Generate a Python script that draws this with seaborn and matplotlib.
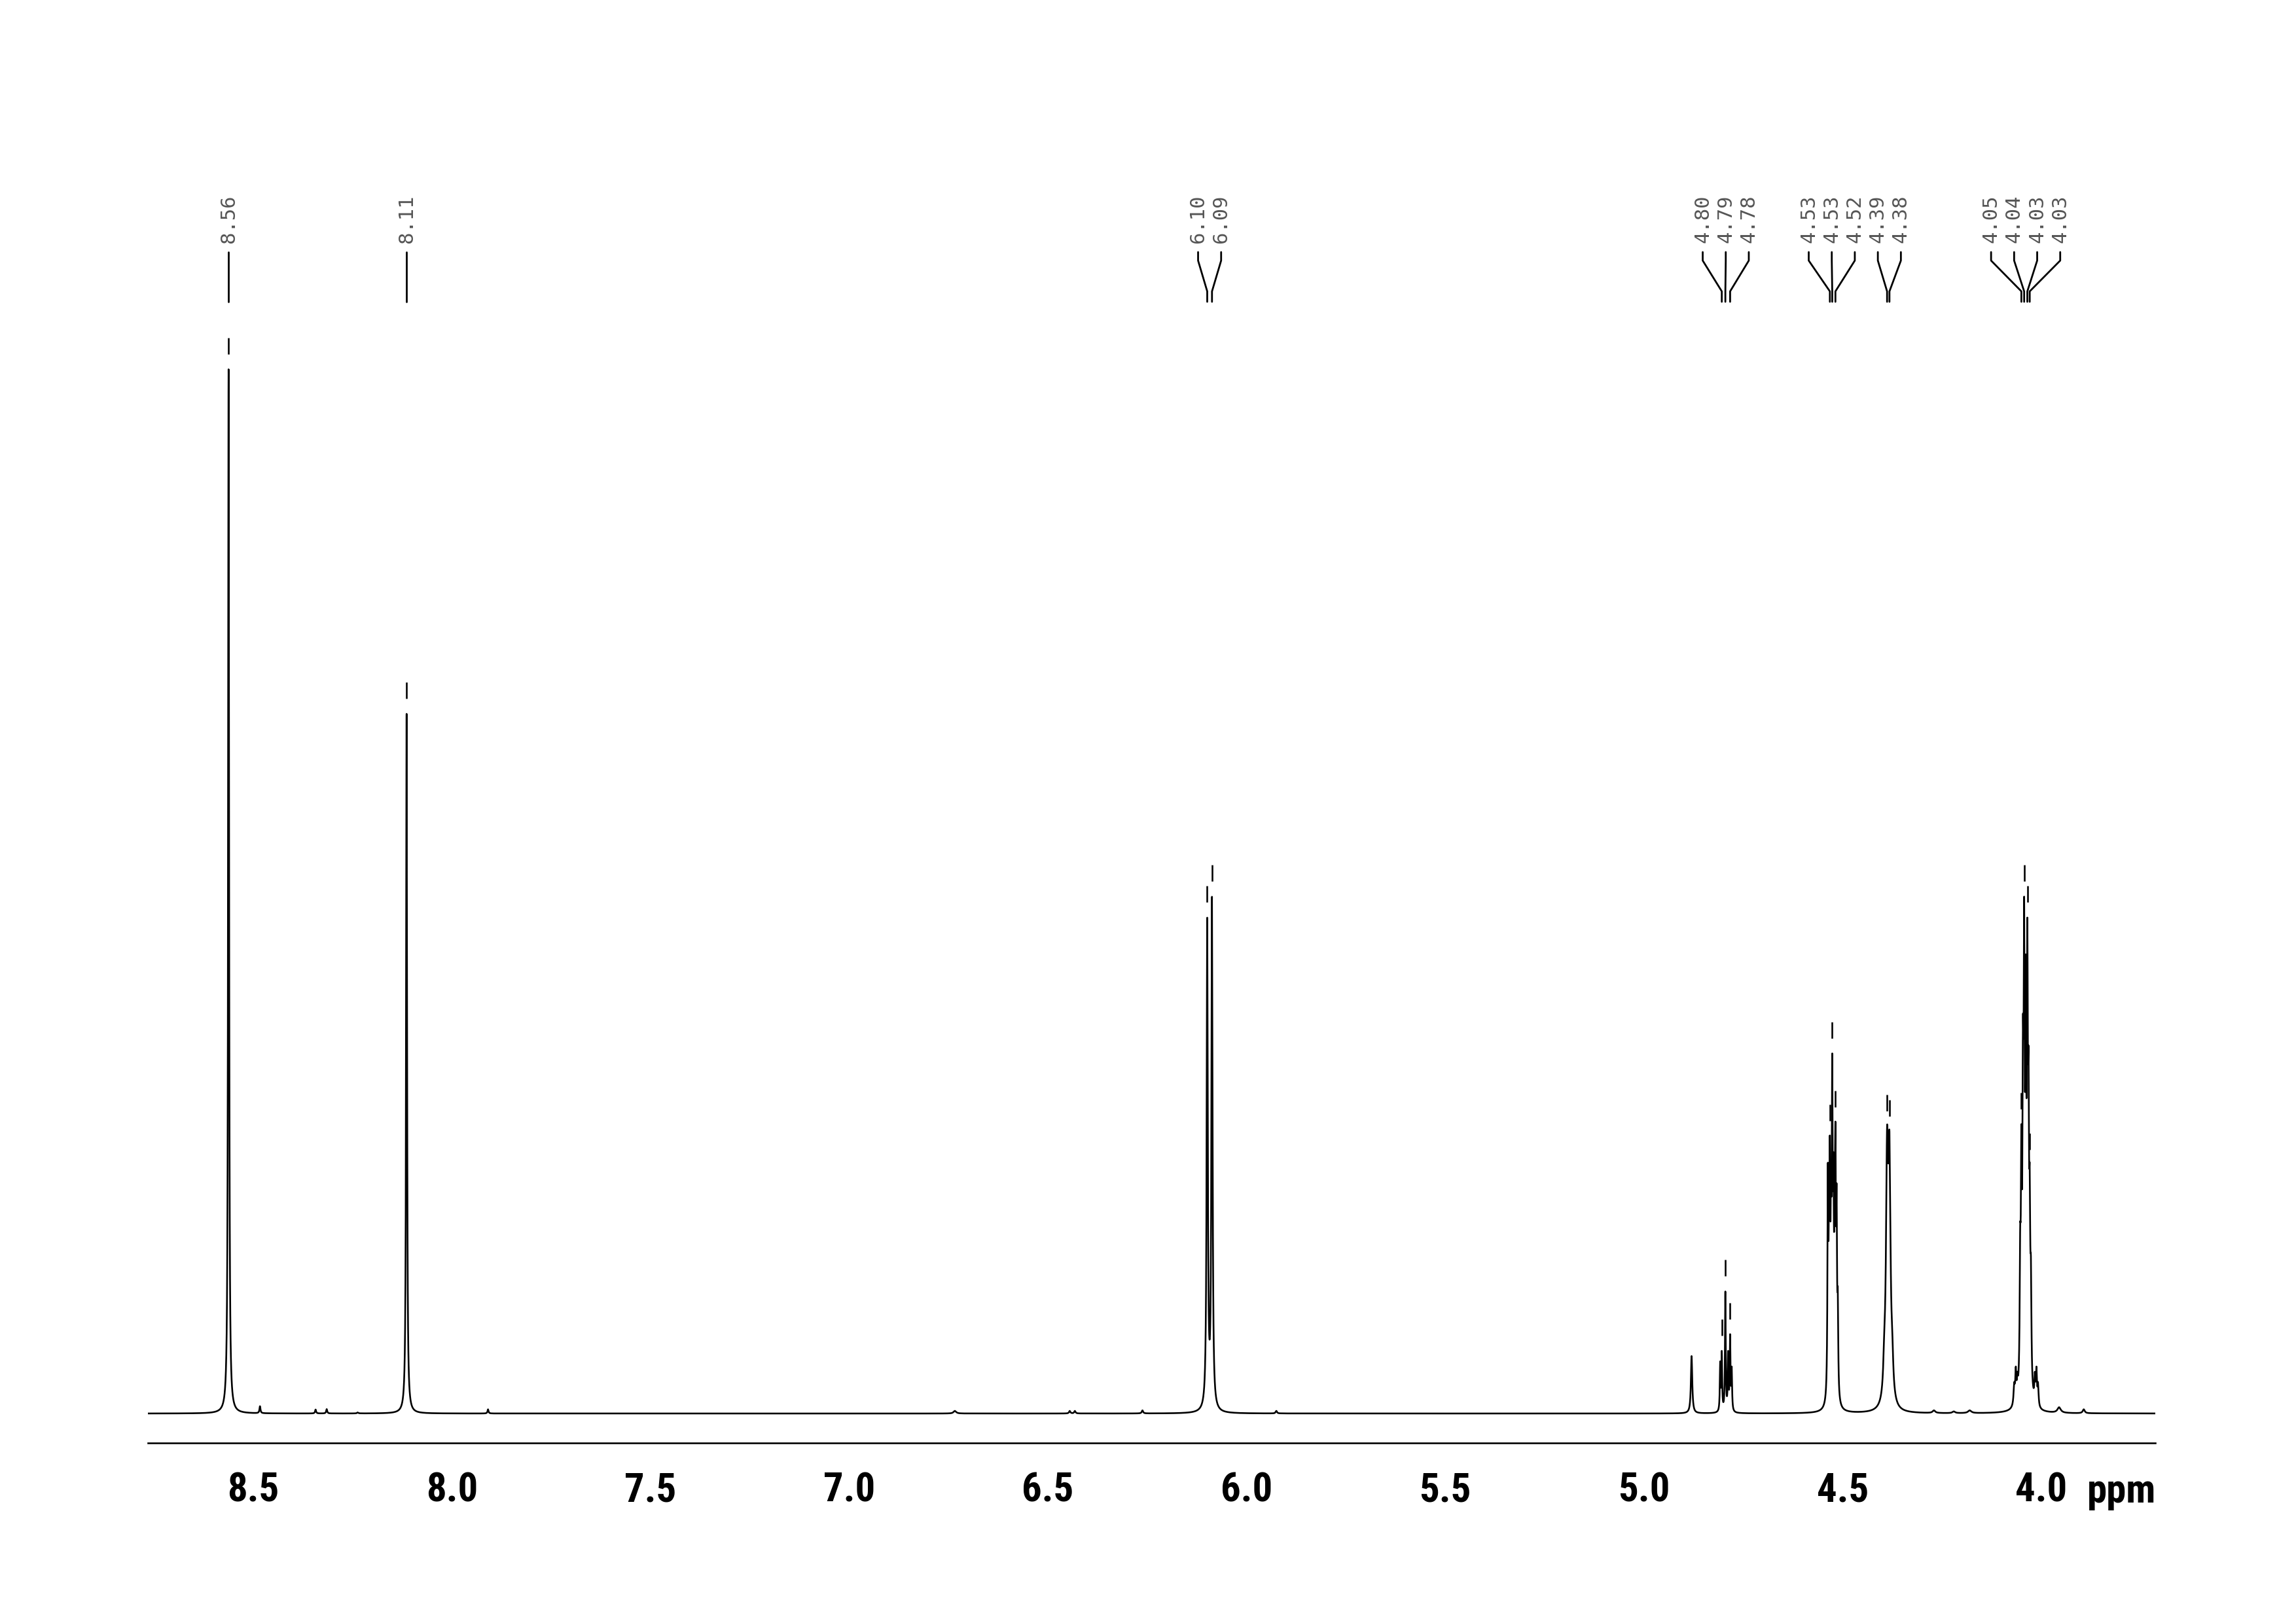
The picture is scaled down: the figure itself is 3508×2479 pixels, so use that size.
import numpy as np
import pandas as pd
import seaborn as sns
import matplotlib
from matplotlib import pyplot as plt
from matplotlib import transforms, font_manager
from matplotlib.ticker import MultipleLocator, FormatStrFormatter
matplotlib.use("Agg")

# resonance lines: shift (ppm), apparent height (8.56 = 100), FWHM (ppm)
line_ppm = [8.562, 8.483, 8.343, 8.315, 8.237, 8.114, 7.909, 6.734, 6.445, 6.432, 6.262,
            6.099, 6.087, 5.925, 4.880,
            4.808, 4.804, 4.795, 4.788, 4.783, 4.779,
            4.537, 4.534, 4.532, 4.529, 4.526, 4.523, 4.520, 4.518, 4.515, 4.512,
            4.395, 4.388, 4.382, 4.375, 4.27, 4.22, 4.18,
            4.068, 4.064, 4.060, 4.053, 4.050, 4.046, 4.043, 4.039, 4.035, 4.032, 4.029, 4.026,
            4.016, 4.012, 4.008, 3.955, 3.893]
line_height = [100, 0.7, 0.38, 0.42, 0.1, 67.0, 0.4, 0.25, 0.25, 0.25, 0.3,
               47.5, 49.5, 0.25, 5.5,
               5.0, 6.0, 11.7, 6.0, 7.6, 4.5,
               24, 22, 26.6, 24, 34.5, 25, 23, 27.9, 22, 12,
               8, 27.5, 27.0, 8, 0.3, 0.2, 0.3,
               3.0, 4.5, 4.0, 18, 27.7, 38, 49.5, 44, 47.5, 35, 23.8, 15,
               4.0, 4.5, 3.0, 0.6, 0.4]
line_fwhm = [0.0028, 0.003, 0.003, 0.003, 0.004, 0.0028, 0.003, 0.008, 0.004, 0.004, 0.004,
             0.0034, 0.0034, 0.004, 0.004,
             0.0022, 0.0022, 0.0022, 0.0022, 0.0022, 0.0022,
             0.0025, 0.0025, 0.0025, 0.0025, 0.0025, 0.0025, 0.0025, 0.0025, 0.0025, 0.0025,
             0.006, 0.0065, 0.0065, 0.006, 0.008, 0.008, 0.01,
             0.004, 0.003, 0.003, 0.003, 0.003, 0.003, 0.003, 0.003, 0.003, 0.003, 0.003, 0.003,
             0.003, 0.003, 0.003, 0.01, 0.006]

# picked peaks with their printed labels
label_ppm = [8.562, 8.114, 6.099, 6.087, 4.804, 4.795, 4.783, 4.532, 4.526, 4.518,
             4.388, 4.382, 4.050, 4.043, 4.035, 4.029]
label_text = ["8.56", "8.11", "6.10", "6.09", "4.80", "4.79", "4.78", "4.53", "4.53", "4.52",
              "4.39", "4.38", "4.05", "4.04", "4.03", "4.03"]

x_left, x_right = 8.765, 3.713


def lorentz(x, x0, w):
    return 1.0 / (1.0 + ((x - x0) / (w / 2.0)) ** 2)


def build_spectrum(grid):
    pos = np.array(line_ppm)
    hgt = np.array(line_height, dtype=float)
    wid = np.array(line_fwhm)
    m = lorentz(pos[:, None], pos[None, :], wid[None, :])
    amp = hgt.copy()
    for _ in range(300):
        amp *= hgt / (m @ amp)
    spec = np.zeros_like(grid)
    for a, p, w in zip(amp, pos, wid):
        spec += a * lorentz(grid, p, w)
    return spec, (lambda xs: sum(a * lorentz(np.asarray(xs), p, w) for a, p, w in zip(amp, pos, wid)))


def spread_labels(peaks, step):
    groups = [[i] for i in range(len(peaks))]
    while True:
        spots = []
        for g in groups:
            c = np.mean([peaks[i] for i in g])
            spots.append([c + step * ((len(g) - 1) / 2 - j) for j in range(len(g))])
        merged = False
        for k in range(len(groups) - 1):
            if spots[k][-1] - spots[k + 1][0] < step:
                groups[k] = groups[k] + groups[k + 1]
                del groups[k + 1]
                merged = True
                break
        if not merged:
            return [x for s in spots for x in s]


def narrow_bold_font(size):
    wanted = ["Liberation Sans Narrow", "Roboto Condensed", "Noto Sans", "Open Sans", "Roboto",
              "DejaVu Sans", "Lato", "Inter"]
    found = []
    for f in font_manager.fontManager.ttflist:
        w = f.weight if isinstance(f.weight, int) else font_manager.weight_dict.get(f.weight, 400)
        if w >= 600 and w <= 750 and str(f.stretch) in ("condensed", "semi-condensed") and f.style == "normal":
            found.append(f)
    for name in wanted:
        for stretch in ("condensed", "semi-condensed"):
            for f in found:
                if f.name == name and f.stretch == stretch:
                    return font_manager.FontProperties(fname=f.fname, size=size)
    if found:
        return font_manager.FontProperties(fname=found[0].fname, size=size)
    return font_manager.FontProperties(family="DejaVu Sans", weight="bold", size=size * 0.8)


grid = np.linspace(x_right, x_left, 50001)
signal, spec_at = build_spectrum(grid)
df = pd.DataFrame({"ppm": grid, "intensity": signal})

sns.set_style("white")
plt.rcParams["axes.edgecolor"] = "black"
plt.rcParams["xtick.color"] = "black"
plt.rcParams["text.color"] = "black"
tick_font = narrow_bold_font(17.5)

W, H = 3508, 2479
fig = plt.figure(figsize=(W / 250, H / 250), dpi=250)
ax_bottom = 1 - 2204 / H
ax_top = 1 - 470 / H
ax = fig.add_axes([226 / W, ax_bottom, (3293 - 226) / W, ax_top - ax_bottom])

sns.lineplot(data=df, x="ppm", y="intensity", ax=ax, color="black", lw=0.75,
             estimator=None, sort=False)

ax.set_xlim(x_left, x_right)
ax.set_ylim(-2.82, (2159 - 470) / 15.95)
ax.set_xlabel("")
ax.set_ylabel("")
ax.set_yticks([])
sns.despine(ax=ax, left=True)
ax.spines["bottom"].set_linewidth(0.75)
ax.spines["bottom"].set_color("black")
ax.xaxis.set_major_locator(MultipleLocator(0.5))
ax.xaxis.set_minor_locator(MultipleLocator(0.1))
ax.xaxis.set_major_formatter(FormatStrFormatter("%.1f"))
ax.tick_params(axis="x", which="major", direction="out", length=6.9, width=0.75, pad=5.5,
               colors="black")
ax.tick_params(axis="x", which="minor", direction="out", length=2.2, width=0.75, colors="black")
for lab in ax.get_xticklabels():
    lab.set_fontproperties(tick_font)
    lab.set_color("black")

fig.text(3242 / W, 1 - 2295 / H, "ppm", ha="center", va="baseline",
         fontproperties=tick_font, color="black")

# peak tops marks
tops = spec_at(label_ppm)
ax.vlines(label_ppm, tops + 23 / 15.95, tops + 48 / 15.95, color="black", lw=0.75)

# peak labels with leader lines
trans = transforms.blended_transform_factory(ax.transData, fig.transFigure)
fy = lambda p: 1 - p / H
text_x = spread_labels(label_ppm, 35.2 / 607)
for tx, px, t in zip(text_x, label_ppm, label_text):
    ax.plot([tx, tx, px, px], [fy(385), fy(398), fy(445), fy(461)], transform=trans,
            color="black", lw=0.8, clip_on=False)
    ax.text(tx, fy(371), t, transform=trans, rotation=90, ha="center", va="bottom",
            family="DejaVu Sans Mono", fontsize=8.8, color="#555555", clip_on=False)

fig.savefig("out.png", dpi=250)
